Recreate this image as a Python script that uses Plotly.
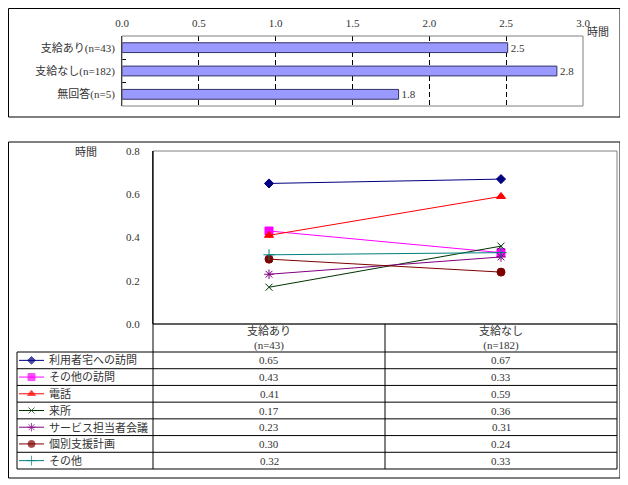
import plotly.graph_objects as go

# top chart: average hours per group
bar_groups = ["支給あり(n=43)", "支給なし(n=182)", "無回答(n=5)"]
bar_hours = [2.51, 2.83, 1.80]

# bottom chart: hours by activity, two groups
col_labels = ["支給あり", "支給なし"]
col_sub = ["(n=43)", "(n=182)"]
activities = ["利用者宅への訪問", "その他の訪問", "電話", "来所",
              "サービス担当者会議", "個別支援計画", "その他"]
hours_yes = [0.65, 0.43, 0.41, 0.17, 0.23, 0.30, 0.32]
hours_no = [0.67, 0.33, 0.59, 0.36, 0.31, 0.24, 0.33]

line_colors = ["#000080", "#ff00ff", "#ff0000", "#003300", "#800080", "#800000", "#008080"]
symbols = ["diamond", "square", "triangle-up", "x-thin", "asterisk", "circle", "cross-thin"]
sizes = [7, 8, 8, 7, 8, 8, 8]

# the page body has an 8px margin, so the figure is placed at (8, 8);
# layout positions below are given in window pixels and shifted back
OX, OY = 8, 8
W, H = 628 - OX, 485 - OY
FONT = "Liberation Serif, Noto Sans CJK JP"


def px(x):
    return (x - OX) / W


def py(y):
    return 1 - (y - OY) / H


fig = go.Figure()

# bar chart
fig.add_trace(go.Bar(
    x=bar_hours, y=bar_groups, orientation="h", width=0.42,
    marker=dict(color="#9999ff", line=dict(color="#333366", width=1)),
    text=bar_hours, texttemplate="%{x:.1f}", textposition="outside",
    constraintext="none",
    textfont=dict(size=11, color="#333"), cliponaxis=False,
    xaxis="x", yaxis="y", showlegend=False,
))

# line chart
for i, name in enumerate(activities):
    fig.add_trace(go.Scatter(
        x=col_labels, y=[hours_yes[i], hours_no[i]], mode="lines+markers",
        line=dict(color=line_colors[i], width=1),
        marker=dict(symbol=symbols[i], size=sizes[i], color=line_colors[i],
                    line=dict(color=line_colors[i], width=1)),
        xaxis="x2", yaxis="y2", showlegend=False, name=name,
    ))
    # legend key inside the table
    fig.add_trace(go.Scatter(
        x=[0, 1, 2], y=[i, i, i], mode="lines+markers",
        line=dict(color=line_colors[i], width=1),
        marker=dict(symbol=symbols[i], size=[0, sizes[i] - 1, 0], color=line_colors[i],
                    line=dict(color=line_colors[i], width=1)),
        xaxis="x3", yaxis="y3", showlegend=False, hoverinfo="skip",
    ))

shapes = []
annotations = []

# outer boxes
shapes.append(dict(type="rect", xref="paper", yref="paper",
                   x0=px(8.5), x1=px(620), y0=py(117), y1=py(8.5),
                   line=dict(color="black", width=1)))
shapes.append(dict(type="rect", xref="paper", yref="paper",
                   x0=px(8.5), x1=px(620), y0=py(478), y1=py(142),
                   line=dict(color="black", width=1)))

# plot borders (gray)
shapes.append(dict(type="rect", xref="x domain", yref="y domain",
                   x0=0, x1=1, y0=0, y1=1, line=dict(color="#808080", width=1)))
shapes.append(dict(type="rect", xref="x2 domain", yref="y2 domain",
                   x0=0, x1=1, y0=0, y1=1, line=dict(color="#808080", width=1)))

# data table grid
top, head_bot, bot = 324, 352, 469
left, c1, c2, right = 17, 153, 385, 617
n = len(activities)
row_h = (bot - head_bot) / n


def hline(y, x0, x1):
    shapes.append(dict(type="line", xref="paper", yref="paper",
                       x0=px(x0), x1=px(x1), y0=py(y), y1=py(y),
                       line=dict(color="black", width=1)))


def vline(x, y0, y1):
    shapes.append(dict(type="line", xref="paper", yref="paper",
                       x0=px(x), x1=px(x), y0=py(y0), y1=py(y1),
                       line=dict(color="black", width=1)))


hline(top, c1, right)
hline(head_bot, left, right)
for k in range(1, n + 1):
    hline(head_bot + k * row_h, left, right)
vline(left, head_bot, bot)
vline(c1, 151, bot)
vline(c2, top, bot)
vline(right, top, bot)


def note(x, y, text, xref="paper", xanchor="center"):
    annotations.append(dict(x=x, xref=xref, y=y, yref="paper", text=text,
                            showarrow=False, xanchor=xanchor, yanchor="middle",
                            font=dict(size=11, color="#333"), align="center"))


# header text
for j, lab in enumerate(col_labels):
    note(lab, py(338), lab + "<br>" + col_sub[j], xref="x2")

# rows
for i, name in enumerate(activities):
    yc = py(head_bot + (i + 0.5) * row_h)
    note(px(47), yc, name, xanchor="left")
    for lab, v in zip(col_labels, [hours_yes[i], hours_no[i]]):
        note(lab, yc, f"{v:.2f}", xref="x2")

# unit labels
note(px(585), py(32), "時間", xanchor="left")
note(px(86), py(152), "時間")

no_auto = dict(automargin=False)
fig.update_layout(
    width=W, height=H,
    margin=dict(l=0, r=0, t=0, b=0, pad=0),
    paper_bgcolor="white", plot_bgcolor="white",
    font=dict(family=FONT, size=11, color="#333"),
    xaxis=dict(domain=[px(122), px(583)], range=[0, 3], dtick=0.5, tickformat=".1f",
               side="top", anchor="y", showgrid=True, gridcolor="black",
               griddash="5px,3px", gridwidth=1, zeroline=False, showline=False,
               ticks="", ticklabelstandoff=6, **no_auto),
    yaxis=dict(domain=[py(106), py(36)], anchor="x", autorange="reversed",
               showline=True, linecolor="black", linewidth=1, ticks="inside",
               tickson="boundaries", ticklen=4, tickcolor="black", showgrid=False,
               ticklabelstandoff=4, **no_auto),
    xaxis2=dict(domain=[px(c1), px(right)], anchor="y2", range=[-0.5, 1.5],
                type="category", showticklabels=False, showgrid=False, zeroline=False,
                showline=False, ticks="", **no_auto),
    yaxis2=dict(domain=[py(top), py(151)], anchor="x2", range=[0, 0.8], dtick=0.2,
                tickformat=".1f", showgrid=False, zeroline=False, showline=True,
                linecolor="black", linewidth=1, ticks="", ticklabelstandoff=10, **no_auto),
    xaxis3=dict(domain=[px(19), px(44)], anchor="y3", range=[0, 2], visible=False, **no_auto),
    yaxis3=dict(domain=[py(bot), py(head_bot)], anchor="x3", range=[n - 0.5, -0.5],
                visible=False, **no_auto),
    shapes=shapes,
    annotations=annotations,
)

fig.write_html("out.html")
